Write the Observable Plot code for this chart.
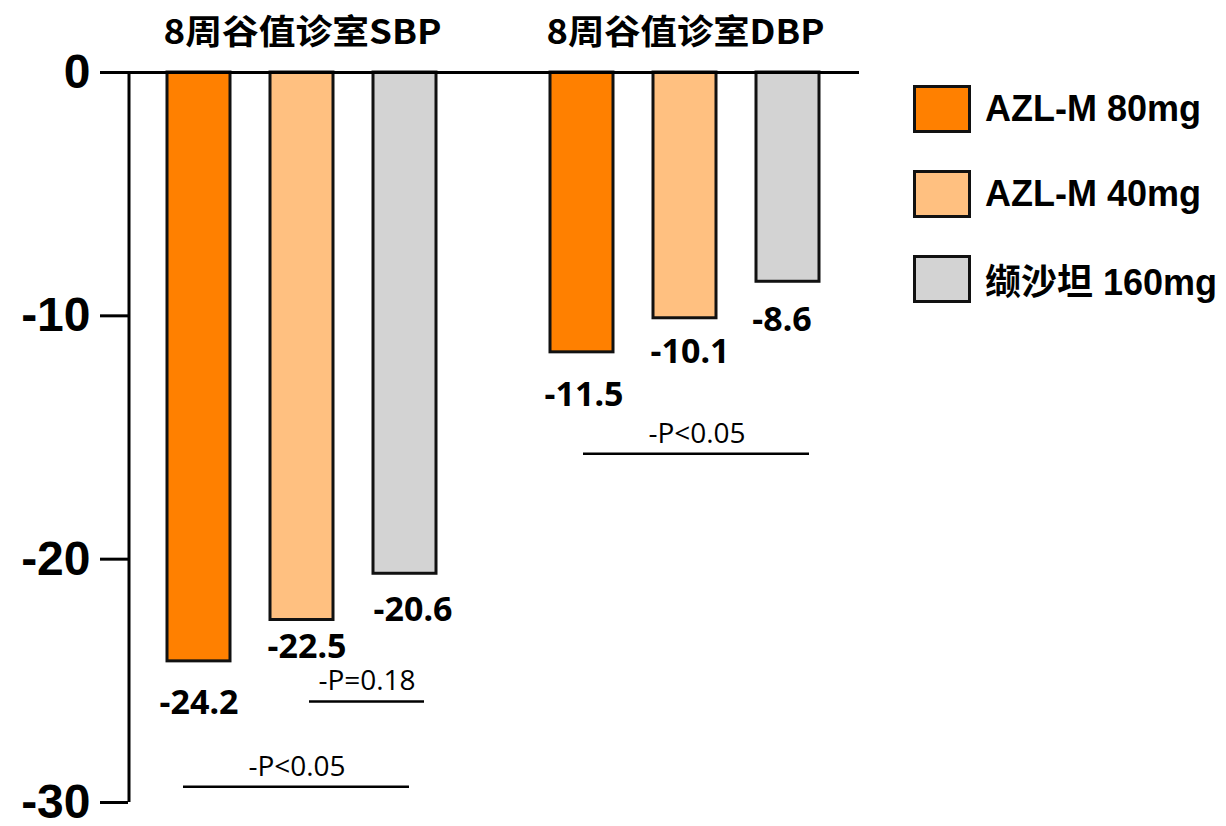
<!DOCTYPE html>
<html><head><meta charset="utf-8">
<script src="https://cdn.jsdelivr.net/npm/d3@7"></script>
<script src="https://cdn.jsdelivr.net/npm/@observablehq/plot@0.6"></script>
<style>
body{margin:0;background:#fff;}
#wrap{position:relative;width:1226px;height:826px;overflow:hidden;}
#legend{position:absolute;left:913px;top:85px;font-family:"Liberation Sans",Arial,"Noto Sans CJK SC",sans-serif;font-weight:bold;font-size:36px;color:#000;}
.item{display:flex;align-items:center;height:48px;margin-bottom:37px;white-space:nowrap;}
.box{width:58px;height:48px;box-sizing:border-box;border:3px solid #111;margin-right:14px;flex:none;}
</style></head>
<body><div id="wrap"><div id="chart"></div><div id="legend"></div></div>
<script>
const groups = ["SBP", "DBP"];
const groupTitles = ["8周谷值诊室SBP", "8周谷值诊室DBP"];
const drugs = ["AZL-M 80mg", "AZL-M 40mg", "缬沙坦 160mg"];
const colors = ["#FF8000", "#FFC080", "#D3D3D3"];
const sbpValues = [-24.2, -22.5, -20.6];
const dbpValues = [-11.5, -10.1, -8.6];
const yTicks = [0, -10, -20, -30];
const compGroup = ["SBP", "SBP", "DBP"];
const compFrom = ["AZL-M 80mg", "AZL-M 40mg", "AZL-M 80mg"];
const compTo = ["缬沙坦 160mg", "缬沙坦 160mg", "缬沙坦 160mg"];
const compLevel = [-29.35, -25.85, -15.67];
const compLabel = ["-P<0.05", "-P=0.18", "-P<0.05"];

const seriesByGroup = {SBP: sbpValues, DBP: dbpValues};
const data = groups.flatMap(g => drugs.map((d, i) => ({group: g, drug: d, value: seriesByGroup[g][i]})));
const comps = compGroup.map((g, i) => ({group: g, from: compFrom[i], to: compTo[i], level: compLevel[i], label: compLabel[i]}));

// styling: value-label offsets below bar ends (px), bracket insets / label shift (px)
const labelStyle = [
  {dx: 0, dy: 42}, {dx: 5, dy: 27}, {dx: 8, dy: 36},
  {dx: 2, dy: 43}, {dx: 5, dy: 34}, {dx: -6, dy: 38}
];
const bracketStyle = [
  {insetLeft: 16, insetRight: 27, dx: 98},
  {insetLeft: 39, insetRight: 12, dx: 65},
  {insetLeft: 33, insetRight: 10, dx: 115}
];

const valueLabelMarks = data.map((d, i) =>
  Plot.text([d], {fx: "group", x: "drug", y: "value", text: r => r.value.toFixed(1),
    dx: labelStyle[i].dx, dy: labelStyle[i].dy,
    fontSize: 34, fontWeight: "bold", fontFamily: "'Noto Sans', sans-serif", fill: "#000"})
);

const bracketMarks = comps.flatMap((c, i) => [
  Plot.ruleY([c], {fx: "group", x1: "from", x2: "to", y: "level", stroke: "#000", strokeWidth: 2.5,
    insetLeft: bracketStyle[i].insetLeft, insetRight: bracketStyle[i].insetRight}),
  Plot.text([c], {fx: "group", x: "from", y: "level", text: "label", dx: bracketStyle[i].dx, dy: -20,
    fontSize: 28, fontFamily: "'Open Sans', sans-serif", fill: "#000"})
]);

const plot = Plot.plot({
  width: 880, height: 826,
  marginTop: 72, marginBottom: 24, marginLeft: 128, marginRight: 21,
  facet: {marginTop: 0, marginBottom: 0, marginLeft: 0, marginRight: 0},
  style: {fontFamily: "'Noto Sans CJK SC', 'Noto Sans', sans-serif", background: "#fff", color: "#000", overflow: "visible"},
  fx: {domain: groups, paddingInner: 0.0914, paddingOuter: 0, axis: null, label: null},
  x: {domain: drugs, paddingInner: 0.385, paddingOuter: 0.366, axis: null, label: null},
  y: {domain: [-30, 0], axis: null, label: null},
  color: {domain: drugs, range: colors},
  marks: [
    Plot.barY(data, {fx: "group", x: "drug", y: "value", fill: "drug", stroke: "#111", strokeWidth: 3}),
    Plot.ruleY([{group: "SBP", zero: 0}], {fx: "group", y: "zero", stroke: "#000", strokeWidth: 3, insetLeft: -28, insetRight: -36}),
    Plot.ruleY([{group: "DBP", zero: 0}], {fx: "group", y: "zero", stroke: "#000", strokeWidth: 3}),
    Plot.ruleX([{group: "SBP", drug: drugs[0]}], {fx: "group", x: "drug", y1: 0, y2: -30, dx: -70, stroke: "#000", strokeWidth: 3}),
    ...valueLabelMarks,
    ...bracketMarks,
    Plot.axisY(yTicks, {anchor: "left", tickSize: 28, tickPadding: 10, strokeWidth: 3, stroke: "#000",
      fontSize: 48, fontWeight: "bold", fontFamily: "'Liberation Sans', Arial, sans-serif", fill: "#000",
      tickFormat: d => String(d), label: null}),
    Plot.axisFx({anchor: "top", tickSize: 0, tickPadding: 29, fontSize: 34, fontWeight: "bold", fill: "#000",
      tickFormat: g => groupTitles[groups.indexOf(g)], label: null})
  ]
});
plot.querySelectorAll('g[aria-label="fx-axis tick label"] text').forEach(t => {
  t.setAttribute("textLength", 278);
  t.setAttribute("lengthAdjust", "spacingAndGlyphs");
});
document.getElementById("chart").appendChild(plot);

const legend = d3.select("#legend");
drugs.forEach((d, i) => {
  const item = legend.append("div").attr("class", "item");
  item.append("div").attr("class", "box").style("background", colors[i]);
  item.append("span").text(d);
});
</script>
</body></html>
